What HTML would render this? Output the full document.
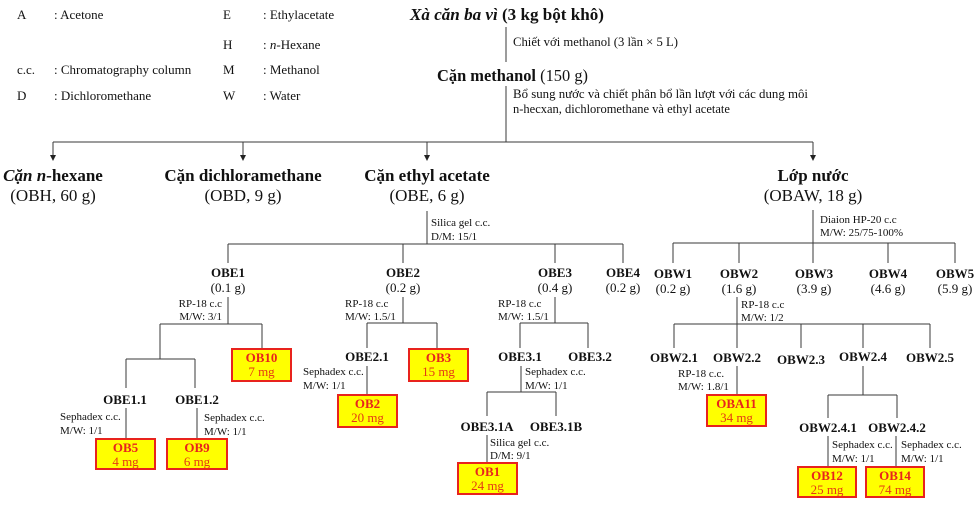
<!DOCTYPE html>
<html><head><meta charset="utf-8">
<style>
html,body{margin:0;padding:0;background:#fff;}
svg{display:block;}
text{font-family:"Liberation Serif","Noto Serif CJK SC",serif;fill:#111;}
.lg{font-size:13px;}
.t{font-size:17px;font-weight:bold;}
.s{font-size:17px;}
.n{font-size:13px;font-weight:bold;text-anchor:middle;}
.w{font-size:13px;text-anchor:middle;}
.c{font-size:11px;}
.ce{font-size:11px;text-anchor:end;}
.bx{fill:#ffff00;stroke:#e8231d;stroke-width:2;}
.bt{font-size:13px;font-weight:bold;text-anchor:middle;fill:#e8231d;}
.bm{font-size:13px;text-anchor:middle;fill:#e43a14;}
line,polyline{stroke:#3a3a3a;stroke-width:1;fill:none;}
</style></head>
<body>
<svg width="977" height="505" viewBox="0 0 977 505" xmlns="http://www.w3.org/2000/svg">
<rect width="977" height="505" fill="#fff"/>
<!-- legend -->
<text class="lg" x="17" y="19">A</text><text class="lg" x="54" y="19">: Acetone</text>
<text class="lg" x="223" y="19">E</text><text class="lg" x="263" y="19">: Ethylacetate</text>
<text class="lg" x="223" y="49">H</text><text class="lg" x="263" y="49">: <tspan font-style="italic">n</tspan>-Hexane</text>
<text class="lg" x="17" y="74">c.c.</text><text class="lg" x="54" y="74">: Chromatography column</text>
<text class="lg" x="223" y="74">M</text><text class="lg" x="263" y="74">: Methanol</text>
<text class="lg" x="17" y="100">D</text><text class="lg" x="54" y="100">: Dichloromethane</text>
<text class="lg" x="223" y="100">W</text><text class="lg" x="263" y="100">: Water</text>

<!-- top -->
<text class="t" x="410" y="20" textLength="194" lengthAdjust="spacingAndGlyphs"><tspan font-style="italic">Xà căn ba vì</tspan> (3 kg bột khô)</text>
<line x1="506" y1="27" x2="506" y2="62"/>
<text x="513" y="46" style="font-size:12.5px" textLength="165" lengthAdjust="spacingAndGlyphs">Chiết với methanol (3 lần × 5 L)</text>
<text class="t" x="437" y="81" textLength="151" lengthAdjust="spacingAndGlyphs">Cặn methanol<tspan font-weight="normal"> (150 g)</tspan></text>
<line x1="506" y1="86" x2="506" y2="142"/>
<text x="513" y="98" style="font-size:12.5px" textLength="295" lengthAdjust="spacingAndGlyphs">Bổ sung nước và chiết phân bổ lần lượt với các dung môi</text>
<text x="513" y="113" style="font-size:12.5px">n-hecxan, dichloromethane và ethyl acetate</text>

<line x1="53" y1="142" x2="813" y2="142"/>
<g>
<line x1="53" y1="142" x2="53" y2="156"/><polygon points="50,155 56,155 53,161" fill="#222"/>
<line x1="243" y1="142" x2="243" y2="156"/><polygon points="240,155 246,155 243,161" fill="#222"/>
<line x1="427" y1="142" x2="427" y2="156"/><polygon points="424,155 430,155 427,161" fill="#222"/>
<line x1="813" y1="142" x2="813" y2="156"/><polygon points="810,155 816,155 813,161" fill="#222"/>
</g>

<text class="t" x="53" y="181" text-anchor="middle"><tspan font-style="italic">Cặn n</tspan>-hexane</text>
<text class="s" x="53" y="201" text-anchor="middle">(OBH, 60 g)</text>
<text class="t" x="243" y="181" text-anchor="middle">Cặn dichloramethane</text>
<text class="s" x="243" y="201" text-anchor="middle">(OBD, 9 g)</text>
<text class="t" x="427" y="181" text-anchor="middle">Cặn ethyl acetate</text>
<text class="s" x="427" y="201" text-anchor="middle">(OBE, 6 g)</text>
<text class="t" x="813" y="181" text-anchor="middle">Lớp nước</text>
<text class="s" x="813" y="201" text-anchor="middle">(OBAW, 18 g)</text>

<!-- OBE branch -->
<line x1="427" y1="211" x2="427" y2="244"/>
<text class="c" x="431" y="226">Silica gel c.c.</text>
<text class="c" x="431" y="240">D/M: 15/1</text>
<line x1="228" y1="244" x2="623" y2="244"/>
<line x1="228" y1="244" x2="228" y2="263"/>
<line x1="403" y1="244" x2="403" y2="263"/>
<line x1="555" y1="244" x2="555" y2="263"/>
<line x1="623" y1="244" x2="623" y2="263"/>

<text class="n" x="228" y="277">OBE1</text><text class="w" x="228" y="292">(0.1 g)</text>
<text class="n" x="403" y="277">OBE2</text><text class="w" x="403" y="292">(0.2 g)</text>
<text class="n" x="555" y="277">OBE3</text><text class="w" x="555" y="292">(0.4 g)</text>
<text class="n" x="623" y="277">OBE4</text><text class="w" x="623" y="292">(0.2 g)</text>

<!-- OBE1 -->
<line x1="228" y1="297" x2="228" y2="324"/>
<text class="ce" x="222" y="307">RP-18 c.c</text>
<text class="ce" x="222" y="320">M/W: 3/1</text>
<line x1="160" y1="324" x2="262" y2="324"/>
<line x1="160" y1="324" x2="160" y2="359"/>
<line x1="262" y1="324" x2="262" y2="349"/>
<rect class="bx" x="232" y="349" width="59" height="32"/>
<text class="bt" x="261.5" y="362">OB10</text><text class="bm" x="261.5" y="376">7 mg</text>
<line x1="126" y1="359" x2="195" y2="359"/>
<line x1="126" y1="359" x2="126" y2="388"/>
<line x1="195" y1="359" x2="195" y2="388"/>
<text class="n" x="125" y="404">OBE1.1</text>
<text class="n" x="197" y="404">OBE1.2</text>
<line x1="126" y1="408" x2="126" y2="439"/>
<text class="c" x="60" y="420">Sephadex c.c.</text>
<text class="c" x="60" y="434">M/W: 1/1</text>
<rect class="bx" x="96" y="439" width="59" height="30"/>
<text class="bt" x="125.5" y="452">OB5</text><text class="bm" x="125.5" y="466">4 mg</text>
<line x1="197" y1="408" x2="197" y2="439"/>
<text class="c" x="204" y="421">Sephadex c.c.</text>
<text class="c" x="204" y="435">M/W: 1/1</text>
<rect class="bx" x="167" y="439" width="60" height="30"/>
<text class="bt" x="197" y="452">OB9</text><text class="bm" x="197" y="466">6 mg</text>

<!-- OBE2 -->
<line x1="403" y1="297" x2="403" y2="323"/>
<text class="c" x="345" y="307">RP-18 c.c</text>
<text class="c" x="345" y="320">M/W: 1.5/1</text>
<line x1="367" y1="323" x2="437" y2="323"/>
<line x1="367" y1="323" x2="367" y2="348"/>
<line x1="437" y1="323" x2="437" y2="349"/>
<text class="n" x="367" y="361">OBE2.1</text>
<rect class="bx" x="409" y="349" width="59" height="32"/>
<text class="bt" x="438.5" y="362">OB3</text><text class="bm" x="438.5" y="376">15 mg</text>
<line x1="367" y1="366" x2="367" y2="395"/>
<text class="c" x="303" y="375">Sephadex c.c.</text>
<text class="c" x="303" y="389">M/W: 1/1</text>
<rect class="bx" x="338" y="395" width="59" height="32"/>
<text class="bt" x="367.5" y="408">OB2</text><text class="bm" x="367.5" y="422">20 mg</text>

<!-- OBE3 -->
<line x1="555" y1="297" x2="555" y2="323"/>
<text class="c" x="498" y="307">RP-18 c.c</text>
<text class="c" x="498" y="320">M/W: 1.5/1</text>
<line x1="520" y1="323" x2="588" y2="323"/>
<line x1="520" y1="323" x2="520" y2="348"/>
<line x1="588" y1="323" x2="588" y2="348"/>
<text class="n" x="520" y="361">OBE3.1</text>
<text class="n" x="590" y="361">OBE3.2</text>
<line x1="521" y1="366" x2="521" y2="392"/>
<text class="c" x="525" y="375">Sephadex c.c.</text>
<text class="c" x="525" y="389">M/W: 1/1</text>
<line x1="487" y1="392" x2="556" y2="392"/>
<line x1="487" y1="392" x2="487" y2="416"/>
<line x1="556" y1="392" x2="556" y2="416"/>
<text class="n" x="487" y="431">OBE3.1A</text>
<text class="n" x="556" y="431">OBE3.1B</text>
<line x1="487" y1="435" x2="487" y2="463"/>
<text class="c" x="490" y="446">Silica gel c.c.</text>
<text class="c" x="490" y="459">D/M:  9/1</text>
<rect class="bx" x="458" y="463" width="59" height="31"/>
<text class="bt" x="487.5" y="476">OB1</text><text class="bm" x="487.5" y="490">24 mg</text>

<!-- OBAW branch -->
<line x1="813" y1="210" x2="813" y2="243"/>
<text class="c" x="820" y="223">Diaion HP-20 c.c</text>
<text class="c" x="820" y="236">M/W: 25/75-100%</text>
<line x1="673" y1="243" x2="955" y2="243"/>
<line x1="673" y1="243" x2="673" y2="263"/>
<line x1="739" y1="243" x2="739" y2="263"/>
<line x1="813" y1="243" x2="813" y2="263"/>
<line x1="888" y1="243" x2="888" y2="263"/>
<line x1="955" y1="243" x2="955" y2="263"/>
<text class="n" x="673" y="278">OBW1</text><text class="w" x="673" y="293">(0.2 g)</text>
<text class="n" x="739" y="278">OBW2</text><text class="w" x="739" y="293">(1.6 g)</text>
<text class="n" x="814" y="278">OBW3</text><text class="w" x="814" y="293">(3.9 g)</text>
<text class="n" x="888" y="278">OBW4</text><text class="w" x="888" y="293">(4.6 g)</text>
<text class="n" x="955" y="278">OBW5</text><text class="w" x="955" y="293">(5.9 g)</text>

<line x1="737" y1="297" x2="737" y2="348"/>
<text class="c" x="741" y="308">RP-18 c.c</text>
<text class="c" x="741" y="321">M/W: 1/2</text>
<line x1="674" y1="324" x2="930" y2="324"/>
<line x1="674" y1="324" x2="674" y2="348"/>
<line x1="801" y1="324" x2="801" y2="348"/>
<line x1="863" y1="324" x2="863" y2="348"/>
<line x1="930" y1="324" x2="930" y2="348"/>
<text class="n" x="674" y="362">OBW2.1</text>
<text class="n" x="737" y="362">OBW2.2</text>
<text class="n" x="801" y="364">OBW2.3</text>
<text class="n" x="863" y="361">OBW2.4</text>
<text class="n" x="930" y="362">OBW2.5</text>

<line x1="737" y1="366" x2="737" y2="395"/>
<text class="c" x="678" y="377">RP-18 c.c.</text>
<text class="c" x="678" y="390">M/W: 1.8/1</text>
<rect class="bx" x="707" y="395" width="59" height="31"/>
<text class="bt" x="736.5" y="408">OBA11</text><text class="bm" x="736.5" y="422">34 mg</text>

<line x1="863" y1="366" x2="863" y2="395"/>
<line x1="828" y1="395" x2="897" y2="395"/>
<line x1="828" y1="395" x2="828" y2="418"/>
<line x1="897" y1="395" x2="897" y2="418"/>
<text class="n" x="828" y="432">OBW2.4.1</text>
<text class="n" x="897" y="432">OBW2.4.2</text>
<line x1="828" y1="436" x2="828" y2="467"/>
<text class="c" x="832" y="448">Sephadex c.c.</text>
<text class="c" x="832" y="462">M/W: 1/1</text>
<line x1="896" y1="436" x2="896" y2="467"/>
<text class="c" x="901" y="448">Sephadex c.c.</text>
<text class="c" x="901" y="462">M/W: 1/1</text>
<rect class="bx" x="798" y="467" width="58" height="30"/>
<text class="bt" x="827" y="480">OB12</text><text class="bm" x="827" y="494">25 mg</text>
<rect class="bx" x="866" y="467" width="58" height="30"/>
<text class="bt" x="895" y="480">OB14</text><text class="bm" x="895" y="494">74 mg</text>
</svg>
</body></html>
